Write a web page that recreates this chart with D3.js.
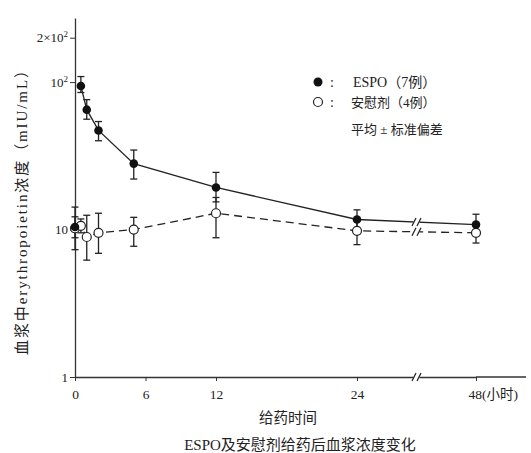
<!DOCTYPE html>
<html>
<head>
<meta charset="utf-8">
<script src="https://cdn.jsdelivr.net/npm/d3@7"></script>
<style>
  body { margin: 0; background: #fff; }
  svg { display: block; }
  .axis path, .axis line { stroke: #333; }
  .axis text { font-family: "Liberation Serif", "Noto Sans CJK SC", serif; fill: #222; }
</style>
</head>
<body>
<div id="chart"></div>
<script>
// Sampling times (hours after dosing)
const hours = [0, 0.5, 1, 2, 5, 12, 24, 48];

// ESPO group (7 cases): mean and mean±SD bounds, mIU/mL
const espoMean = [10.4, 94, 65, 47, 28, 19.3, 11.7, 10.8];
const espoLow  = [8.8, 85, 56, 40, 22, 15.4, 10.1, 9.5];
const espoHigh = [12.2, 109, 76, 54, 34.6, 24.4, 13.6, 12.7];

// Placebo group (4 cases)
const placeboMean = [10.2, 10.6, 8.9, 9.5, 10.0, 12.9, 9.8, 9.5];
const placeboLow  = [7.3, 9.5, 6.2, 6.9, 7.7, 8.8, 7.9, 8.1];
const placeboHigh = [14.2, 11.8, 12.5, 12.9, 12.1, 16.5, 11.5, 10.5];

// Axis ticks
const xTicks = [0, 6, 12, 24, 48];
const yTicks = [1, 10, 100, 200];
const yTickLabels = [['1', ''], ['10', ''], ['10', '2'], ['2×10', '2']];

const W = 531, H = 453;
const margin = {top: 18, left: 75, bottom: 76};

const svg = d3.select('#chart').append('svg')
    .attr('width', W)
    .attr('height', H);

// x axis is broken between 24 and 48 h
const x = d3.scaleLinear()
    .domain([0, 24, 48])
    .range([margin.left, 357, 476]);

const y = d3.scaleLog()
    .domain([1, 272])
    .range([H - margin.bottom, margin.top]);

const espo = hours.map((t, i) => ({t, v: espoMean[i], lo: espoLow[i], hi: espoHigh[i]}));
const placebo = hours.map((t, i) => ({t, v: placeboMean[i], lo: placeboLow[i], hi: placeboHigh[i]}));

// Y axis
const yAxis = svg.append('g')
    .attr('class', 'axis')
    .attr('transform', `translate(${margin.left},0)`)
    .call(d3.axisLeft(y).tickValues(yTicks).tickSize(5).tickSizeOuter(0).tickPadding(2).tickFormat(''));
yAxis.select('.domain').attr('stroke-width', 1.3);

yAxis.selectAll('.tick').each(function(d, i) {
    const t = d3.select(this).select('text')
        .attr('font-size', 13)
        .attr('text-anchor', 'end');
    const lab = yTickLabels[i];
    t.text(null);
    t.append('tspan').text(lab[0]);
    if (lab[1]) {
        t.append('tspan').attr('font-size', 9).attr('dy', -5).text(lab[1]);
    }
});

// X axis
const xAxis = svg.append('g')
    .attr('class', 'axis')
    .attr('transform', `translate(0,${y(1)})`)
    .call(d3.axisBottom(x).tickValues(xTicks).tickSize(4).tickSizeOuter(0).tickPadding(8)
        .tickFormat(d => d === 48 ? '48(小时)' : d));
xAxis.select('.domain').attr('stroke-width', 1.3);
xAxis.selectAll('text').attr('font-size', 13.5);
xAxis.selectAll('.tick')
    .filter(d => d === 48)
    .select('text')
    .attr('text-anchor', 'start')
    .attr('x', -8);

// extend x axis line to the right edge
xAxis.append('line')
    .attr('x1', x(48))
    .attr('x2', 526)
    .attr('stroke', '#333')
    .attr('stroke-width', 1.3);

const breakX = (x(24) + x(48)) / 2;

function drawBreak(cx, cy) {
    const g = svg.append('g');
    g.append('rect')
        .attr('x', cx - 3)
        .attr('y', cy - 4)
        .attr('width', 6)
        .attr('height', 8)
        .attr('fill', '#fff');
    [-2.5, 2.5].forEach(dx => {
        g.append('line')
            .attr('x1', cx + dx - 2).attr('y1', cy + 4)
            .attr('x2', cx + dx + 2).attr('y2', cy - 4)
            .attr('stroke', '#222')
            .attr('stroke-width', 1.2);
    });
}
drawBreak(breakX, y(1));

const line = d3.line()
    .x(d => x(d.t))
    .y(d => y(d.v));

function errorBars(data) {
    const g = svg.append('g');
    data.forEach(d => {
        g.append('line')
            .attr('x1', x(d.t)).attr('x2', x(d.t))
            .attr('y1', y(d.lo)).attr('y2', y(d.hi))
            .attr('stroke', '#222').attr('stroke-width', 1.3);
        [d.lo, d.hi].forEach(b => {
            g.append('line')
                .attr('x1', x(d.t) - 3.5).attr('x2', x(d.t) + 3.5)
                .attr('y1', y(b)).attr('y2', y(b))
                .attr('stroke', '#222').attr('stroke-width', 1.3);
        });
    });
}

// Placebo (dashed, open circles)
errorBars(placebo);
svg.append('path')
    .datum(placebo)
    .attr('d', line)
    .attr('fill', 'none')
    .attr('stroke', '#222')
    .attr('stroke-width', 1.3)
    .attr('stroke-dasharray', '8,5');

// ESPO (solid, filled circles); the baseline point is not joined to the curve
errorBars(espo);
svg.append('path')
    .datum(espo.slice(1))
    .attr('d', line)
    .attr('fill', 'none')
    .attr('stroke', '#222')
    .attr('stroke-width', 1.3);

// breaks on the series lines
[espo, placebo].forEach(s => {
    const a = s[s.length - 2], b = s[s.length - 1];
    drawBreak(breakX, (y(a.v) + y(b.v)) / 2);
});

svg.append('g').selectAll('circle')
    .data(placebo)
    .join('circle')
    .attr('cx', d => x(d.t))
    .attr('cy', d => y(d.v))
    .attr('r', 4.5)
    .attr('fill', '#fff')
    .attr('stroke', '#222')
    .attr('stroke-width', 1.2);

svg.append('g').selectAll('circle')
    .data(espo)
    .join('circle')
    .attr('cx', d => x(d.t))
    .attr('cy', d => y(d.v))
    .attr('r', 4.3)
    .attr('fill', '#111');

// Legend
const lg = svg.append('g')
    .attr('font-family', '"Liberation Serif", "Noto Sans CJK SC", serif')
    .attr('font-size', 14)
    .attr('fill', '#222');
lg.append('circle').attr('cx', 318).attr('cy', 82).attr('r', 4.5).attr('fill', '#111');
lg.append('circle').attr('cx', 318).attr('cy', 102).attr('r', 4.5).attr('fill', '#fff')
    .attr('stroke', '#222').attr('stroke-width', 1.2);
lg.append('text').attr('x', 330).attr('y', 87).text(':');
lg.append('text').attr('x', 330).attr('y', 107).text(':');
lg.append('text').attr('x', 353).attr('y', 87).text('ESPO（7例）');
lg.append('text').attr('x', 351).attr('y', 107).attr('font-size', 13).text('安慰剂（4例）');
lg.append('text').attr('x', 351).attr('y', 134).attr('font-size', 13).text('平均 ± 标准偏差');

// Axis titles
svg.append('text')
    .attr('transform', 'translate(27,209) rotate(-90)')
    .attr('text-anchor', 'middle')
    .attr('font-family', '"Liberation Serif", "Noto Sans CJK SC", serif')
    .attr('font-size', 15)
    .attr('fill', '#222')
    .attr('textLength', 292)
    .attr('lengthAdjust', 'spacing')
    .text('血浆中erythropoietin浓度（mIU/mL）');

svg.append('text')
    .attr('x', 288)
    .attr('y', 423)
    .attr('text-anchor', 'middle')
    .attr('font-family', '"Noto Sans CJK SC", sans-serif')
    .attr('font-size', 14.5)
    .attr('fill', '#222')
    .text('给药时间');

svg.append('text')
    .attr('x', 300)
    .attr('y', 450)
    .attr('text-anchor', 'middle')
    .attr('font-family', '"Liberation Serif", "Noto Sans CJK SC", serif')
    .attr('font-size', 15)
    .attr('fill', '#222')
    .text('ESPO及安慰剂给药后血浆浓度变化');
</script>
</body>
</html>
